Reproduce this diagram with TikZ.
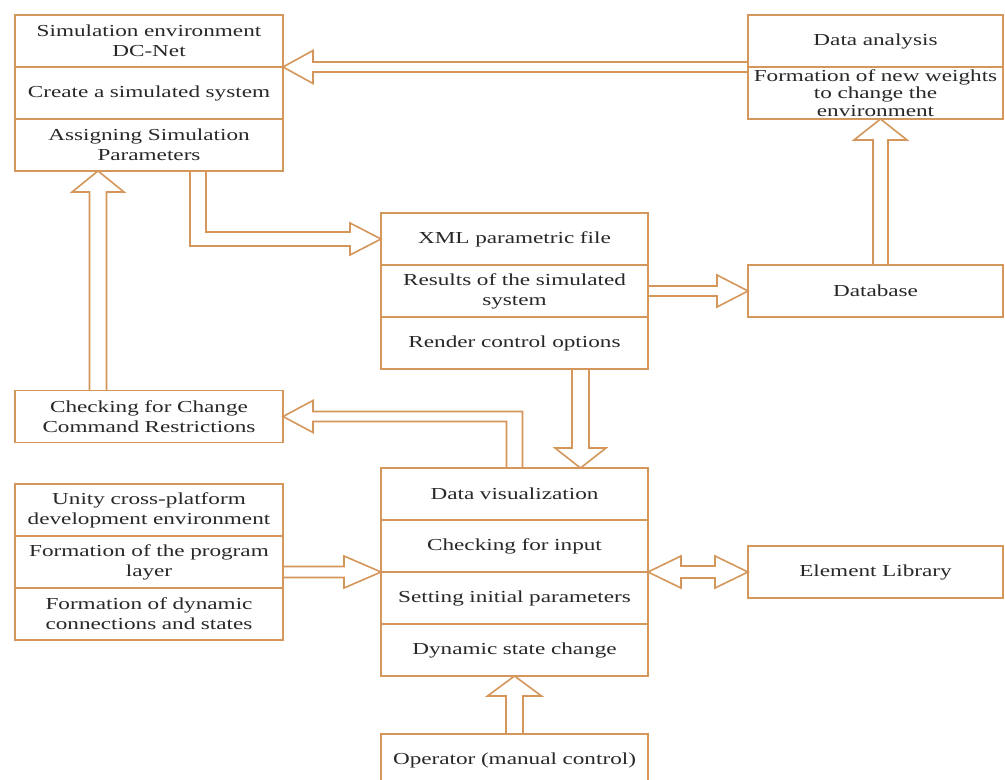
\documentclass[tikz,border=0pt]{standalone}
\usepackage{fontspec}
\setmainfont{Liberation Serif}[FakeStretch=1.38]
\usetikzlibrary{calc}
\usetikzlibrary{positioning}
\definecolor{lineOrange}{RGB}{212,150,90}
\definecolor{textGray}{RGB}{40,40,40}
%% A hollow block arrow: start, tip, shaft half width, head half width, head length.
\newcommand{\blockArrow}[5]{%%
  \coordinate (arrowTip) at (#2);
  \coordinate (arrowBase) at ($(#2)!#5!(#1)$);
  \draw[arrowStyle] ($(#1)!#3!90:(#2)$) -- ($(arrowBase)!#3!90:(arrowTip)$)
    -- ($(arrowBase)!#4!90:(arrowTip)$) -- (arrowTip)
    -- ($(arrowBase)!#4!-90:(arrowTip)$) -- ($(arrowBase)!#3!-90:(arrowTip)$)
    -- ($(#1)!#3!-90:(#2)$);
}
%% The same with a head at both ends.
\newcommand{\doubleBlockArrow}[5]{%%
  \coordinate (baseOne) at ($(#1)!#5!(#2)$);
  \coordinate (baseTwo) at ($(#2)!#5!(#1)$);
  \draw[arrowStyle] (#1) -- ($(baseOne)!#4!90:(#2)$) -- ($(baseOne)!#3!90:(#2)$)
    -- ($(baseTwo)!#3!90:(#2)$) -- ($(baseTwo)!#4!90:(#2)$) -- (#2)
    -- ($(baseTwo)!#4!-90:(#2)$) -- ($(baseTwo)!#3!-90:(#2)$)
    -- ($(baseOne)!#3!-90:(#2)$) -- ($(baseOne)!#4!-90:(#2)$) -- cycle;
}

\begin{document}
\begin{tikzpicture}[%%
  x=0.5pt,y=-0.5pt,%%
  cellStyle/.style={draw=lineOrange,line width=0.8pt,text=textGray,
    minimum width=#1,text width=#1,minimum height=26pt,
    inner sep=0pt,outer sep=0pt,align=center,
    font=\fontsize{8.4}{10}\selectfont},%%
  arrowStyle/.style={draw=lineOrange,line width=0.8pt,line join=miter}
]
\path[use as bounding box,fill=white] (0,0) rectangle (1005,780);
%%
%% Simulation environment.
\node[cellStyle=134pt] (A1) at (149,41) {Simulation environment\\DC-Net};
\node[cellStyle=134pt,below=0pt of A1] (A2) {Create a simulated system};
\node[cellStyle=134pt,below=0pt of A2] (A3) {Assigning Simulation\\Parameters};
%% Data analysis.
\node[cellStyle=127.5pt] (B1) at (875.5,41) {Data analysis};
\node[cellStyle=127.5pt,below=0pt of B1,font=\fontsize{8.4}{8.75}\selectfont] (B2)
  {Formation of new weights\\to change the\\environment};
%% Parametric file.
\node[cellStyle=133.5pt] (C1) at (514.5,239) {XML parametric file};
\node[cellStyle=133.5pt,below=0pt of C1] (C2) {Results of the simulated\\system};
\node[cellStyle=133.5pt,below=0pt of C2] (C3) {Render control options};
\node[cellStyle=127.5pt] (D) at (875.5,291) {Database};
\node[cellStyle=134pt] (E) at (149,416.5) {Checking for Change\\Command Restrictions};
%% Visualization.
\node[cellStyle=133.5pt] (F1) at (514.5,494) {Data visualization};
\node[cellStyle=133.5pt,below=0pt of F1] (F2) {Checking for input};
\node[cellStyle=133.5pt,below=0pt of F2] (F3) {Setting initial parameters};
\node[cellStyle=133.5pt,below=0pt of F3] (F4) {Dynamic state change};
%% Unity.
\node[cellStyle=134pt] (G1) at (149,510) {Unity cross-platform\\development environment};
\node[cellStyle=134pt,below=0pt of G1] (G2) {Formation of the program\\layer};
\node[cellStyle=134pt,below=0pt of G2] (G3) {Formation of dynamic\\connections and states};
\node[cellStyle=127.5pt] (H) at (875.5,572) {Element Library};
\node[cellStyle=133.5pt] (I) at (514.5,760) {Operator (manual control)};
%%
%% Straight block arrows.
\blockArrow{B1.south west}{A1.south east}{2.5pt}{8.25pt}{15pt}
\blockArrow{C2.east}{D.west}{2.5pt}{8pt}{15.5pt}
\coordinate (dbStart) at ($(D.north)+(5,0)$);
\coordinate (dbEnd) at ($(B2.south)+(5,0)$);
\blockArrow{dbStart}{dbEnd}{3.75pt}{13.25pt}{10.5pt}
\coordinate (cfStart) at ($(C3.south)+(66,0)$);
\coordinate (cfEnd) at ($(F1.north)+(66,0)$);
\blockArrow{cfStart}{cfEnd}{4.25pt}{12.75pt}{10pt}
\coordinate (gfStart) at (G2.east |- F2.south west);
\blockArrow{gfStart}{F2.south west}{2.75pt}{8pt}{18.5pt}
\blockArrow{I.north}{F4.south}{4.25pt}{13.5pt}{10pt}
\coordinate (eaStart) at ($(E.north)+(-51,0)$);
\coordinate (eaEnd) at ($(A3.south)+(-51,0)$);
\blockArrow{eaStart}{eaEnd}{4.25pt}{13pt}{10.5pt}
\doubleBlockArrow{F2.south east}{H.west}{3pt}{8pt}{16.5pt}
%% Bent arrow from the parameters to the parametric file.
\coordinate (acTop) at ($(A3.south)+(49,0)$);
\coordinate (acCorner) at (acTop |- C1.west);
\draw[arrowStyle] ($(acTop)+(-8,0)$) -- ($(acCorner)+(-8,7)$)
  -- ($(C1.west)+(-31,7)$) -- ($(C1.west)+(-31,16)$) -- (C1.west)
  -- ($(C1.west)+(-31,-16)$) -- ($(C1.west)+(-31,-7)$)
  -- ($(acCorner)+(8,-7)$) -- ($(acTop)+(8,0)$);
%% Bent arrow from the visualization to the restrictions.
\coordinate (feCorner) at (F1.north |- E.east);
\draw[arrowStyle] ($(F1.north)+(8,0)$) -- ($(feCorner)+(8,-5)$)
  -- ($(E.east)+(30,-5)$) -- ($(E.east)+(30,-16)$) -- (E.east)
  -- ($(E.east)+(30,16)$) -- ($(E.east)+(30,5)$)
  -- ($(feCorner)+(-8,5)$) -- ($(F1.north)+(-8,0)$);
\end{tikzpicture}
\end{document}
